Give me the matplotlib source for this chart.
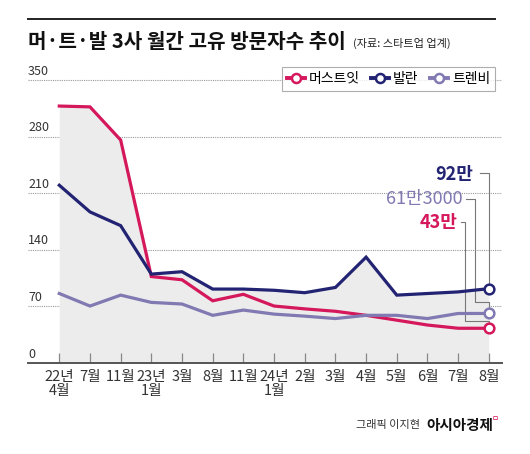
import numpy as np
import matplotlib.pyplot as plt
from matplotlib.lines import Line2D
from matplotlib.legend_handler import HandlerLine2D

plt.rcParams['font.family'] = ['Noto Sans CJK KR', 'DejaVu Sans']

# 데이터 (단위: 만 명)
meses = ['22년\n4월', '7월', '11월', '23년\n1월', '3월', '8월', '11월', '24년\n1월',
         '2월', '3월', '4월', '5월', '6월', '7월', '8월']
mustit = [318, 317, 276, 107, 103, 77, 85, 70.5, 67, 64, 59, 53, 47, 43, 43]
balaan = [220, 187, 170, 110, 113, 91.5, 91.5, 90, 87, 93.5, 131, 84, 86, 88, 92]
trenbe = [86, 70.5, 84, 75, 73, 59, 65.5, 60.5, 58, 55, 59, 59, 55, 61.3, 61.3]
nombres = ['머스트잇', '발란', '트렌비']
etiquetas = ['43만', '92만', '61만3000']
yticks = [0, 70, 140, 210, 280, 350]

c_rojo = '#d5175c'
c_azul = '#222372'
c_lila = '#8079b2'
colores = [c_rojo, c_azul, c_lila]
series = [mustit, balaan, trenbe]

fig = plt.figure(figsize=(5.3, 4.54), dpi=100)
ax = fig.add_axes([28/530, 91/454, 474/530, 303/454])

x = np.arange(len(meses))
n = len(meses)

# area gris bajo el maximo
tope = np.max(np.vstack(series), axis=0)
ax.fill_between(x, 0, tope, color='#ececec', lw=0, zorder=1)

# lineas de referencia
for v in yticks[1:]:
    ax.axhline(v, color='#999999', lw=0.8, ls=(0, (1, 1)), zorder=0.5)
    ax.text(0.0, v + 3, str(v), transform=ax.get_yaxis_transform(),
            ha='left', va='bottom', fontsize=9, color='#333333')
ax.text(0.0, 3, '0', transform=ax.get_yaxis_transform(),
        ha='left', va='bottom', fontsize=9, color='#333333')

for s, c in zip(series, colores):
    ax.plot(x, s, color=c, lw=2.3, zorder=3, solid_joinstyle='miter')
    ax.plot(x[-1], s[-1], 'o', ms=7, mfc='white', mec=c, mew=1.8, zorder=4)

ax.set_xlim(-1.02, 14.43)
ax.set_ylim(0, 375)
ax.set_yticks([])
ax.set_xticks(x)
ax.set_xticklabels(meses, fontsize=10.5, color='#333333', linespacing=1.05)
ax.tick_params(axis='x', direction='in', length=7, width=0.9, color='#888888', pad=5)
for sp in ['top', 'right', 'left']:
    ax.spines[sp].set_visible(False)
ax.spines['bottom'].set_color('#555555')
ax.spines['bottom'].set_linewidth(1.4)

# etiquetas finales con lineas guia
gris = '#777777'
# 92만
ax.text(13.5, 233, etiquetas[1], ha='right', va='center', fontsize=13,
        color=c_azul, fontweight='bold')
ax.plot([13.7, 14, 14], [235, 235, balaan[-1] + 5], color=gris, lw=0.8, zorder=2)
# 61만3000
ax.text(13.14, 203, etiquetas[2], ha='right', va='center', fontsize=13, color=c_lila)
ax.plot([13.25, 13.56, 13.56, 14, 14], [203, 203, 75.8, 75.8, trenbe[-1] + 5],
        color=gris, lw=0.8, zorder=2)
# 43만
ax.text(12.98, 174, etiquetas[0], ha='right', va='center', fontsize=13,
        color=c_rojo, fontweight='bold')
ax.plot([13.1, 13.24, 13.24, 14, 14], [174, 174, 52.3, 52.3, mustit[-1] + 5],
        color=gris, lw=0.8, zorder=2)


class MarcaFinal(HandlerLine2D):
    def get_xdata(self, legend, xdescent, ydescent, width, height, fontsize):
        xd = np.array([-xdescent, -xdescent + width])
        return xd, np.array([-xdescent + width])


handles = [Line2D([0], [0], color=c, lw=2.8, marker='o', ms=6.5, mfc='white',
                  mec=c, mew=1.8) for c in colores]
leg = ax.legend(handles, nombres, loc='upper right', bbox_to_anchor=(1.0, 1.0),
                ncol=3, frameon=True, fontsize=10, handlelength=1.3,
                handletextpad=0.3, columnspacing=0.8, borderpad=0.35,
                fancybox=False, handler_map={h: MarcaFinal() for h in handles})
leg.get_frame().set_edgecolor('#999999')
leg.get_frame().set_linewidth(0.8)

# titulo
fig.add_artist(Line2D([28/530, 495/530], [1 - 19/454, 1 - 19/454],
                      color='#222222', lw=1.4))
fig.text(28/530, 1 - 41/454, '머·트·발 3사 월간 고유 방문자수 추이', fontsize=14.5,
         fontweight='bold', ha='left', va='center', color='#111111')
fig.text(353/530, 1 - 43/454, '(자료: 스타트업 업계)', fontsize=8, ha='left',
         va='center', color='#222222')

# pie
fig.text(420/530, 1 - 425/454, '그래픽 이지현', fontsize=8, ha='right',
         va='center', color='#333333')
fig.text(426/530, 1 - 425/454, '아시아경제', fontsize=10.5, fontweight='bold',
         ha='left', va='center', color='#111111')
fig.text(492/530, 1 - 419/454, 'ㅁ', fontsize=5.5, ha='left', va='center',
         color=c_rojo)

fig.savefig('out.png', dpi=100)
